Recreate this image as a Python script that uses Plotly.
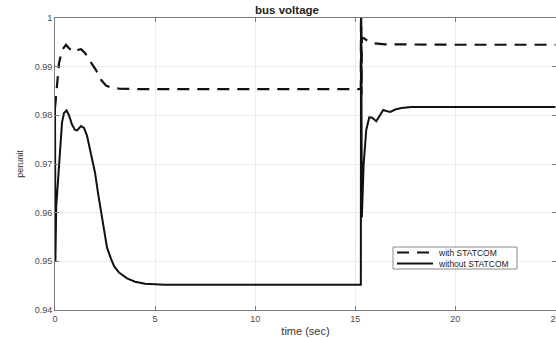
import plotly.graph_objects as go

# Bus voltage (per unit) versus time (s), with and without the STATCOM
t_with = [0.0, 0.05, 0.12, 0.2, 0.35, 0.55, 0.7, 0.9, 1.1, 1.3, 1.5, 1.7, 1.9,
          2.05, 2.3, 2.55, 2.8, 3.2, 4.0, 10.0, 15.28, 15.29, 15.31, 15.33,
          15.45, 15.65, 15.9, 16.5, 20.0, 25.0]
v_with = [0.9815, 0.9836, 0.9879, 0.9907, 0.9934, 0.9945, 0.9938, 0.9930,
          0.9934, 0.9936, 0.9928, 0.9914, 0.9902, 0.9893, 0.9873, 0.9861,
          0.9857, 0.9855, 0.9854, 0.9854, 0.9854, 1.0120, 0.9842, 0.9960,
          0.9958, 0.9952, 0.9948, 0.9946, 0.9945, 0.9945]

t_without = [0.0, 0.02, 0.06, 0.15, 0.25, 0.35, 0.45, 0.58, 0.7, 0.85, 1.0,
             1.1, 1.3, 1.45, 1.6, 1.8, 2.0, 2.15, 2.3, 2.45, 2.6, 2.8, 2.95,
             3.2, 3.6, 4.0, 4.5, 5.5, 15.28, 15.29, 15.30, 15.33, 15.42,
             15.55, 15.7, 15.85, 16.05, 16.25, 16.4, 16.55, 16.75, 17.0,
             17.3, 17.8, 25.0]
v_without = [0.9835, 0.9500, 0.9612, 0.9660, 0.9730, 0.9785, 0.9805, 0.9810,
             0.9800, 0.9781, 0.9770, 0.9769, 0.9778, 0.9774, 0.9758, 0.9720,
             0.9682, 0.9640, 0.9600, 0.9560, 0.9528, 0.9505, 0.9490, 0.9477,
             0.9465, 0.9458, 0.9454, 0.9452, 0.9452, 1.0150, 0.9755, 0.9590,
             0.9700, 0.9770, 0.9796, 0.9795, 0.9788, 0.9800, 0.9811, 0.9809,
             0.9807, 0.9812, 0.9815, 0.9817, 0.9817]

series_names = ["with STATCOM", "without STATCOM"]
x_ticks = [0, 5, 10, 15, 20, 25]
y_ticks = [0.94, 0.95, 0.96, 0.97, 0.98, 0.99, 1.0]
y_tick_labels = ["0.94", "0.95", "0.96", "0.97", "0.98", "0.99", "1"]

W, H = 556, 338
ML, MR, MT, MB = 55, 0, 18, 28
PW, PH = W - ML - MR, H - MT - MB


def px_x(x):
    return (x - ML) / PW


def px_y(y):
    return (H - MB - y) / PH


FONT = "Liberation Sans, Arial, sans-serif"
AXIS_COLOR = "#7a7a7a"
LINE_COLOR = "#111111"

fig = go.Figure()
fig.add_trace(go.Scatter(x=t_with, y=v_with, mode="lines", name=series_names[0],
                         line=dict(color=LINE_COLOR, width=2.2, dash="12px,8px"),
                         showlegend=False))
fig.add_trace(go.Scatter(x=t_without, y=v_without, mode="lines", name=series_names[1],
                         line=dict(color=LINE_COLOR, width=2),
                         showlegend=False))

axis_common = dict(
    showgrid=True, gridcolor="#ececec", gridwidth=1,
    showline=True, linecolor=AXIS_COLOR, linewidth=1, mirror="ticks",
    ticks="inside", ticklen=4, tickcolor=AXIS_COLOR,
    tickfont=dict(family=FONT, size=9, color="#4a4a4a"),
    ticklabeloverflow="allow",
    zeroline=False, automargin=False,
)

fig.update_xaxes(range=[0, 25.03], tickvals=x_ticks,
                 title=dict(text="time (sec)", font=dict(family=FONT, size=11, color="#333"),
                            standoff=4),
                 **axis_common)
fig.update_yaxes(range=[0.94, 1.0], tickvals=y_ticks, ticktext=y_tick_labels,
                 title=dict(text="perunit", font=dict(family=FONT, size=9, color="#333"),
                            standoff=9),
                 **axis_common)

# Legend box drawn in the lower right of the axes
lx0, lx1, ly0, ly1 = 393, 517, 247, 269
shapes = [
    dict(type="rect", xref="paper", yref="paper",
         x0=px_x(lx0), x1=px_x(lx1), y0=px_y(ly1), y1=px_y(ly0),
         line=dict(color="#8a8a8a", width=1), fillcolor="white", layer="above"),
    dict(type="line", xref="paper", yref="paper",
         x0=px_x(397), x1=px_x(433), y0=px_y(252.5), y1=px_y(252.5),
         line=dict(color=LINE_COLOR, width=2.2, dash="12px,8px"), layer="above"),
    dict(type="line", xref="paper", yref="paper",
         x0=px_x(397), x1=px_x(433), y0=px_y(263.5), y1=px_y(263.5),
         line=dict(color=LINE_COLOR, width=2), layer="above"),
]
annotations = [
    dict(text=series_names[0], xref="paper", yref="paper", x=px_x(436), y=px_y(252.5),
         xanchor="left", yanchor="middle", showarrow=False,
         font=dict(family=FONT, size=8.5, color="#222")),
    dict(text=series_names[1], xref="paper", yref="paper", x=px_x(436), y=px_y(263.5),
         xanchor="left", yanchor="middle", showarrow=False,
         font=dict(family=FONT, size=8.5, color="#222")),
]

fig.update_layout(
    width=W, height=H,
    margin=dict(l=ML, r=MR, t=MT, b=MB, pad=0),
    paper_bgcolor="white", plot_bgcolor="white",
    title=dict(text="<b>bus voltage</b>", xref="container", yref="container",
               x=287 / W, y=1 - 10 / H, xanchor="center", yanchor="middle",
               font=dict(family=FONT, size=11.5, color="#222")),
    shapes=shapes, annotations=annotations,
    showlegend=False,
)

fig.write_html("out.html")
